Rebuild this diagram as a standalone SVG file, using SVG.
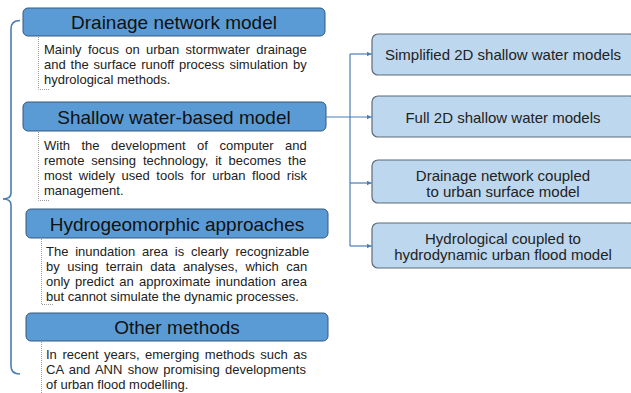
<svg xmlns="http://www.w3.org/2000/svg" width="631" height="393" viewBox="0 0 631 393">
<defs>
<style>
.hdr{fill:#5b9bd5;stroke:#34587f;stroke-width:1}
.ht{font-family:"Liberation Sans",Arial,sans-serif;font-size:19px;fill:#111;text-anchor:middle}
.bt{font-family:"Liberation Sans",Arial,sans-serif;font-size:13px;fill:#222}
.dot{fill:none;stroke:#9a9a9a;stroke-width:1;stroke-dasharray:1 1}
.rb{fill:#bdd7ee;stroke:#5d6b7a;stroke-width:1.2}
.rt{font-family:"Liberation Sans",Arial,sans-serif;font-size:15px;fill:#222;text-anchor:middle}
.con{fill:none;stroke:#4a7cb5;stroke-width:1.2}
.brace{fill:none;stroke:#4a7cb5;stroke-width:1.6}
</style>
<marker id="arr" viewBox="0 0 10 10" refX="10" refY="5" markerWidth="5" markerHeight="5" orient="auto" markerUnits="userSpaceOnUse">
<path d="M0,0 L10,5 L0,10 z" fill="#4a7cb5"/>
</marker>
</defs>
<rect width="631" height="393" fill="#ffffff"/>

<g id="brace">
<path class="brace" d="M20,20.5 Q11,20.5 11,29 L11,193 Q11,199 3,199 Q11,199 11,205 L11,366 Q11,374 20,374"/>
</g>

<g id="node-drainage">
<rect class="hdr" x="23" y="8" width="302" height="28" rx="5"/>
<text class="ht" x="174" y="29">Drainage network model</text>
<path class="dot" d="M38.5,37 V89.5 H50"/>
<text class="bt" x="44" y="54" word-spacing="2.7">Mainly focus on urban stormwater drainage</text>
<text class="bt" x="44" y="69" word-spacing="1.3">and the surface runoff process simulation by</text>
<text class="bt" x="44" y="84">hydrological methods.</text>
</g>

<g id="node-shallow">
<rect class="hdr" x="23" y="102" width="303" height="29" rx="5"/>
<text class="ht" x="174" y="123.5">Shallow water-based model</text>
<path class="dot" d="M38.5,132 V200.5 H50"/>
<text class="bt" x="44" y="150" word-spacing="7.9">With the development of computer and</text>
<text class="bt" x="44" y="165" word-spacing="3.2">remote sensing technology, it becomes the</text>
<text class="bt" x="44" y="180" word-spacing="3.0">most widely used tools for urban flood risk</text>
<text class="bt" x="44" y="195">management.</text>
</g>

<g id="node-hydrogeo">
<rect class="hdr" x="26" y="209" width="302" height="29" rx="5"/>
<text class="ht" x="177" y="230.5">Hydrogeomorphic approaches</text>
<path class="dot" d="M41.5,239 V304.5 H53"/>
<text class="bt" x="46" y="256" word-spacing="3.2">The inundation area is clearly recognizable</text>
<text class="bt" x="46" y="271" word-spacing="3.9">by using terrain data analyses, which can</text>
<text class="bt" x="46" y="286" word-spacing="1.6">only predict an approximate inundation area</text>
<text class="bt" x="46" y="301">but cannot simulate the dynamic processes.</text>
</g>

<g id="node-other">
<rect class="hdr" x="26" y="313" width="302" height="28" rx="5"/>
<text class="ht" x="177" y="334">Other methods</text>
<path class="dot" d="M41.5,342 V393"/>
<text class="bt" x="46" y="359" word-spacing="1.95">In recent years, emerging methods such as</text>
<text class="bt" x="46" y="374" word-spacing="1.7">CA and ANN show promising developments</text>
<text class="bt" x="46" y="389">of urban flood modelling.</text>
</g>

<g id="connectors">
<path class="con" d="M326,117 H371.5" marker-end="url(#arr)"/>
<path class="con" d="M350,54 V246"/>
<path class="con" d="M350,54 H371.5" marker-end="url(#arr)"/>
<path class="con" d="M350,183 H371.5" marker-end="url(#arr)"/>
<path class="con" d="M350,246 H371.5" marker-end="url(#arr)"/>
</g>

<g id="node-simplified">
<rect class="rb" x="372" y="34" width="264" height="41" rx="6"/>
<text class="rt" x="503" y="60">Simplified 2D shallow water models</text>
</g>

<g id="node-full">
<rect class="rb" x="372" y="96" width="264" height="41" rx="6"/>
<text class="rt" x="503" y="123">Full 2D shallow water models</text>
</g>

<g id="node-coupled">
<rect class="rb" x="372" y="160" width="264" height="43" rx="6"/>
<text class="rt" x="503" y="181">Drainage network coupled</text>
<text class="rt" x="503" y="197">to urban surface model</text>
</g>

<g id="node-hydrological">
<rect class="rb" x="372" y="223" width="264" height="45" rx="6"/>
<text class="rt" x="503" y="244">Hydrological coupled to</text>
<text class="rt" x="503" y="260">hydrodynamic urban flood model</text>
</g>
</svg>
